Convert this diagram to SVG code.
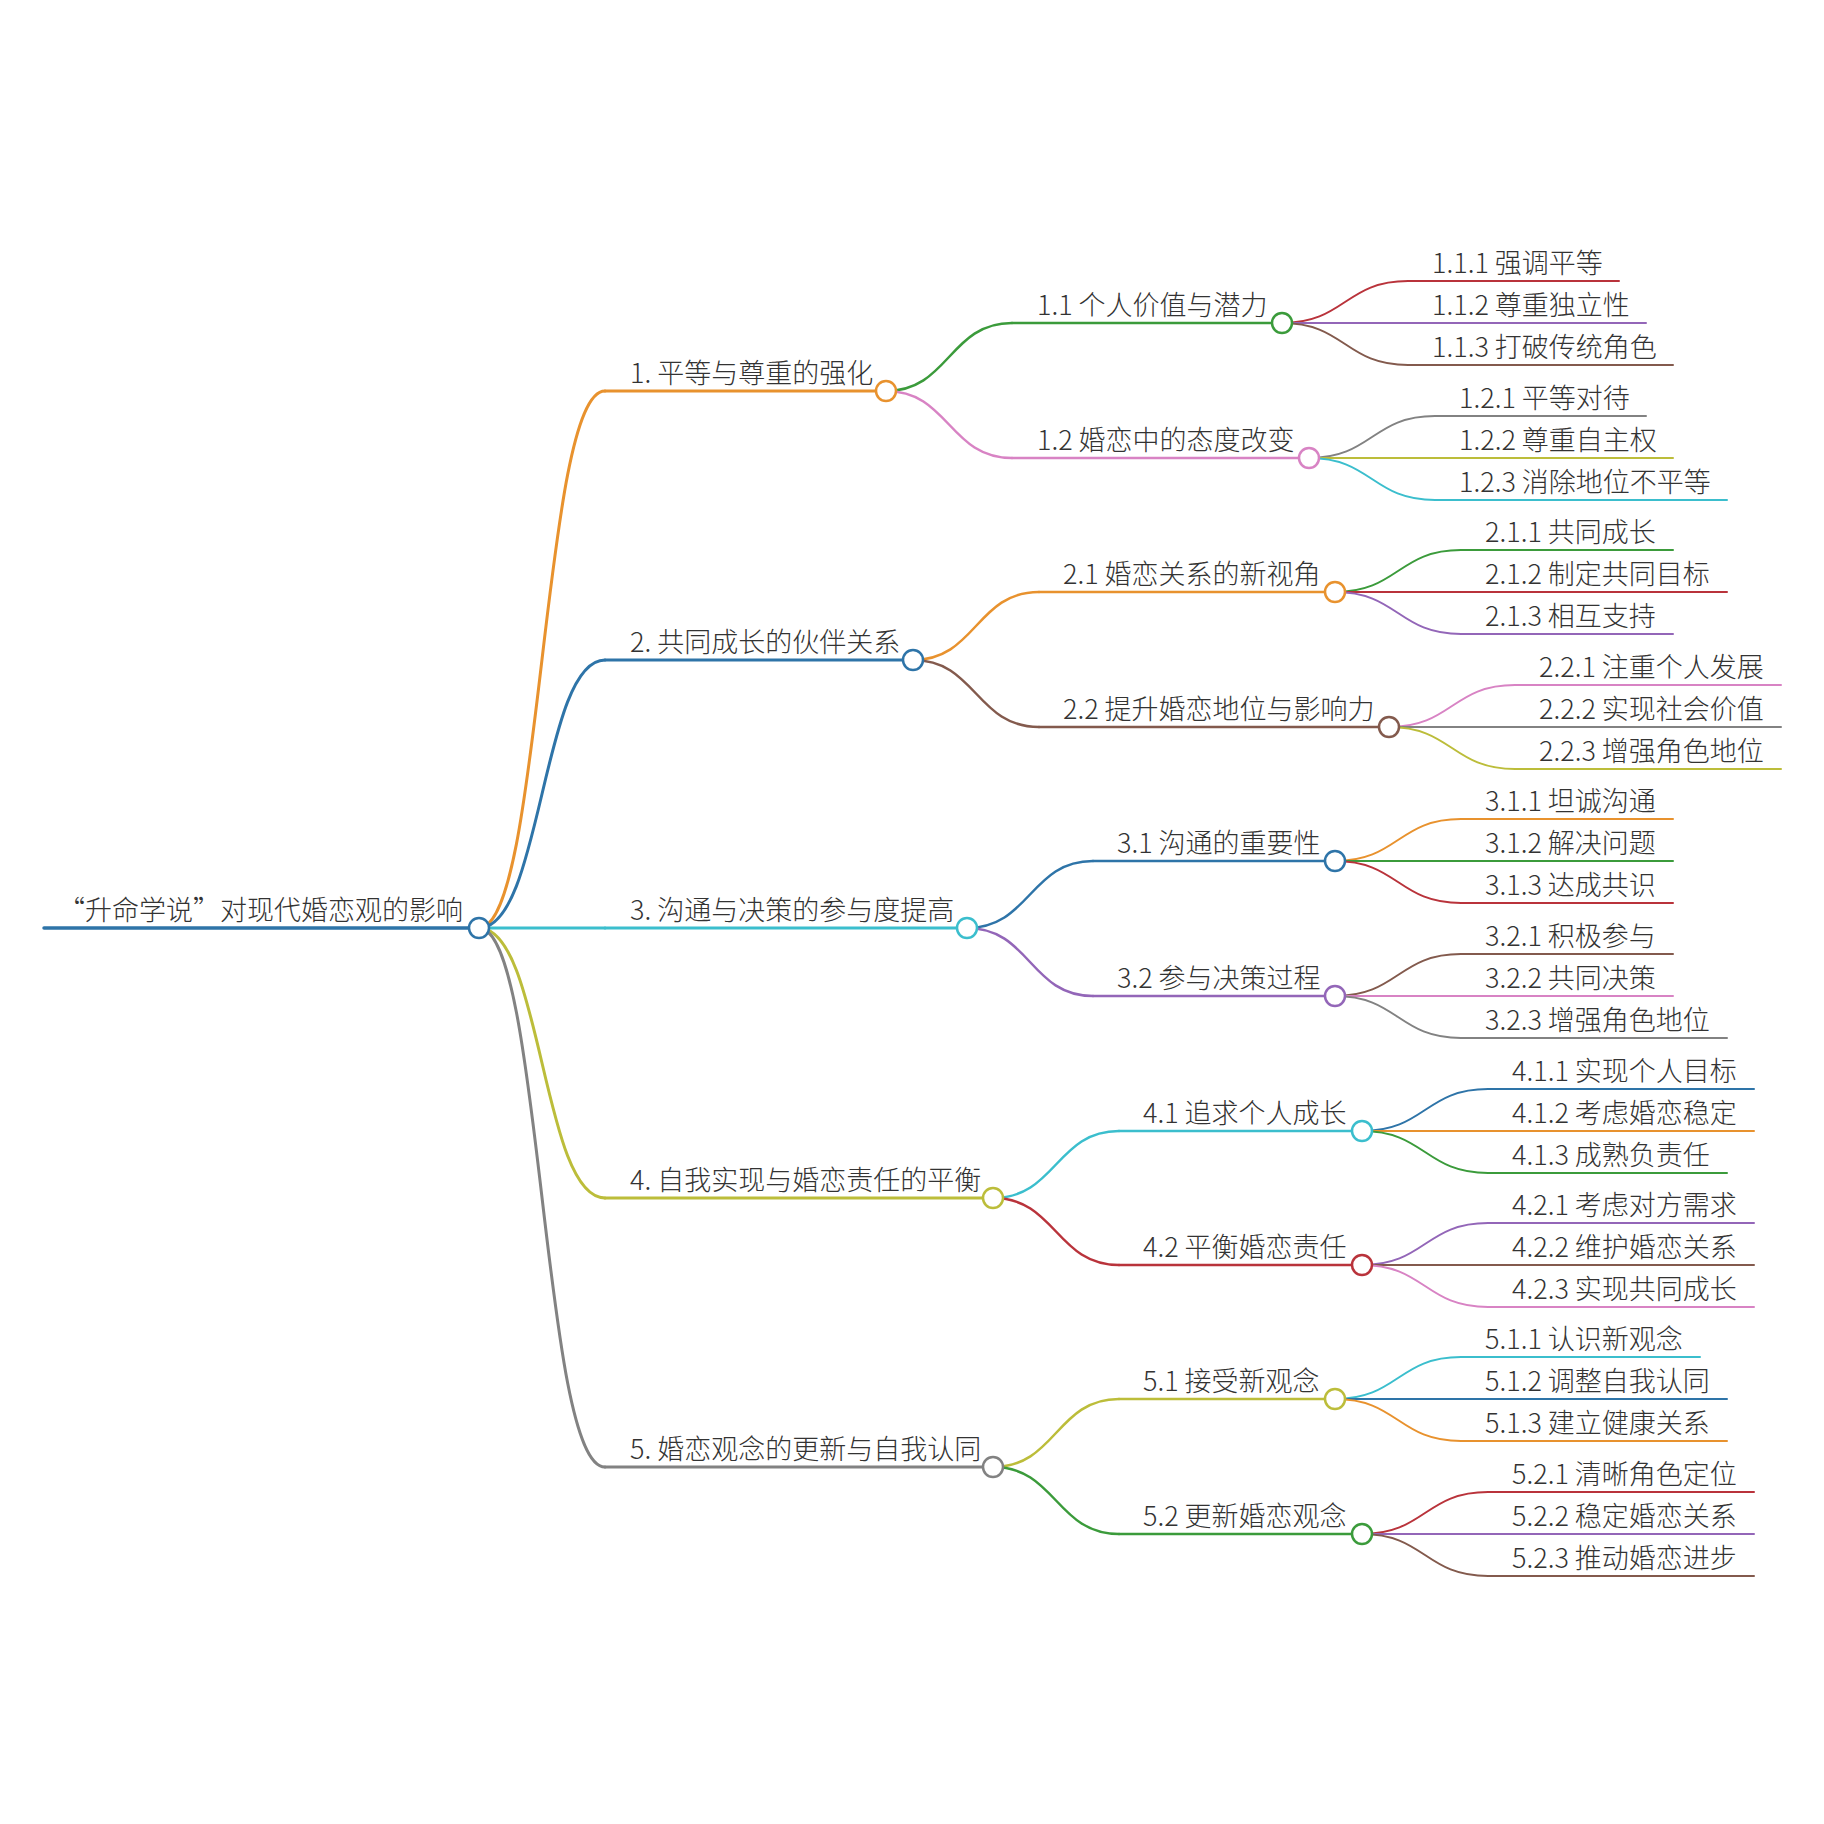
<svg xmlns="http://www.w3.org/2000/svg" width="1824" height="1824" viewBox="0 0 1824 1824">
<style>
text{font-family:"Noto Sans CJK SC","Noto Sans",sans-serif;font-size:27px;font-weight:300;fill:#333}
path,line{fill:none;stroke-linecap:round}
circle{fill:#fff;stroke-width:2.5}
.c0{stroke:#2e74a8}.c1{stroke:#e8922e}.c2{stroke:#3b9b3b}.c3{stroke:#b9333b}.c4{stroke:#9366b8}
.c5{stroke:#835a4d}.c6{stroke:#d883c4}.c7{stroke:#828282}.c8{stroke:#bcbd3a}.c9{stroke:#3bbecd}
.w0{stroke-width:3.5}.w1{stroke-width:3}.w2{stroke-width:2.5}.w3{stroke-width:2}
</style>
<rect width="1824" height="1824" fill="#fff"/>
<g id="connectors">
<path class="c1 w1" d="M479,928 C542,928 542,391 605,391"/>
<path class="c0 w1" d="M479,928 C542,928 542,660 605,660"/>
<path class="c9 w1" d="M479,928 L605,928"/>
<path class="c8 w1" d="M479,928 C542,928 542,1198 605,1198"/>
<path class="c7 w1" d="M479,928 C542,928 542,1467 605,1467"/>
<path class="c2 w2" d="M886,391 C949,391 949,323 1012,323"/>
<path class="c6 w2" d="M886,391 C949,391 949,458 1012,458"/>
<path class="c1 w2" d="M913,660 C976,660 976,592 1039,592"/>
<path class="c5 w2" d="M913,660 C976,660 976,727 1039,727"/>
<path class="c0 w2" d="M967,928 C1030,928 1030,861 1093,861"/>
<path class="c4 w2" d="M967,928 C1030,928 1030,996 1093,996"/>
<path class="c9 w2" d="M993,1198 C1056,1198 1056,1131 1119,1131"/>
<path class="c3 w2" d="M993,1198 C1056,1198 1056,1265 1119,1265"/>
<path class="c8 w2" d="M993,1467 C1056,1467 1056,1399 1119,1399"/>
<path class="c2 w2" d="M993,1467 C1056,1467 1056,1534 1119,1534"/>
<path class="c3 w3" d="M1282,323 C1345,323 1345,281 1408,281"/>
<path class="c4 w3" d="M1282,323 L1408,323"/>
<path class="c5 w3" d="M1282,323 C1345,323 1345,365 1408,365"/>
<path class="c7 w3" d="M1309,458 C1372,458 1372,416 1435,416"/>
<path class="c8 w3" d="M1309,458 L1435,458"/>
<path class="c9 w3" d="M1309,458 C1372,458 1372,500 1435,500"/>
<path class="c2 w3" d="M1335,592 C1398,592 1398,550 1461,550"/>
<path class="c3 w3" d="M1335,592 L1461,592"/>
<path class="c4 w3" d="M1335,592 C1398,592 1398,634 1461,634"/>
<path class="c6 w3" d="M1389,727 C1452,727 1452,685 1515,685"/>
<path class="c7 w3" d="M1389,727 L1515,727"/>
<path class="c8 w3" d="M1389,727 C1452,727 1452,769 1515,769"/>
<path class="c1 w3" d="M1335,861 C1398,861 1398,819 1461,819"/>
<path class="c2 w3" d="M1335,861 L1461,861"/>
<path class="c3 w3" d="M1335,861 C1398,861 1398,903 1461,903"/>
<path class="c5 w3" d="M1335,996 C1398,996 1398,954 1461,954"/>
<path class="c6 w3" d="M1335,996 L1461,996"/>
<path class="c7 w3" d="M1335,996 C1398,996 1398,1038 1461,1038"/>
<path class="c0 w3" d="M1362,1131 C1425,1131 1425,1089 1488,1089"/>
<path class="c1 w3" d="M1362,1131 L1488,1131"/>
<path class="c2 w3" d="M1362,1131 C1425,1131 1425,1173 1488,1173"/>
<path class="c4 w3" d="M1362,1265 C1425,1265 1425,1223 1488,1223"/>
<path class="c5 w3" d="M1362,1265 L1488,1265"/>
<path class="c6 w3" d="M1362,1265 C1425,1265 1425,1307 1488,1307"/>
<path class="c9 w3" d="M1335,1399 C1398,1399 1398,1357 1461,1357"/>
<path class="c0 w3" d="M1335,1399 L1461,1399"/>
<path class="c1 w3" d="M1335,1399 C1398,1399 1398,1441 1461,1441"/>
<path class="c3 w3" d="M1362,1534 C1425,1534 1425,1492 1488,1492"/>
<path class="c4 w3" d="M1362,1534 L1488,1534"/>
<path class="c5 w3" d="M1362,1534 C1425,1534 1425,1576 1488,1576"/>
</g>
<g id="root"><line class="c0 w0" x1="44" y1="928" x2="479" y2="928"/><circle class="c0" cx="479" cy="928" r="10"/><text x="463" y="920" text-anchor="end">“升命学说”对现代婚恋观的影响</text></g>
<g id="n1"><line class="c1 w1" x1="605" y1="391" x2="886" y2="391"/><circle class="c1" cx="886" cy="391" r="10"/><text x="630" y="383">1. 平等与尊重的强化</text></g>
<g id="n2"><line class="c0 w1" x1="605" y1="660" x2="913" y2="660"/><circle class="c0" cx="913" cy="660" r="10"/><text x="630" y="652">2. 共同成长的伙伴关系</text></g>
<g id="n3"><line class="c9 w1" x1="605" y1="928" x2="967" y2="928"/><circle class="c9" cx="967" cy="928" r="10"/><text x="630" y="920">3. 沟通与决策的参与度提高</text></g>
<g id="n4"><line class="c8 w1" x1="605" y1="1198" x2="993" y2="1198"/><circle class="c8" cx="993" cy="1198" r="10"/><text x="630" y="1190">4. 自我实现与婚恋责任的平衡</text></g>
<g id="n5"><line class="c7 w1" x1="605" y1="1467" x2="993" y2="1467"/><circle class="c7" cx="993" cy="1467" r="10"/><text x="630" y="1459">5. 婚恋观念的更新与自我认同</text></g>
<g id="n1-1"><line class="c2 w2" x1="1012" y1="323" x2="1282" y2="323"/><circle class="c2" cx="1282" cy="323" r="10"/><text x="1037" y="315">1.1 个人价值与潜力</text></g>
<g id="n1-2"><line class="c6 w2" x1="1012" y1="458" x2="1309" y2="458"/><circle class="c6" cx="1309" cy="458" r="10"/><text x="1037" y="450">1.2 婚恋中的态度改变</text></g>
<g id="n2-1"><line class="c1 w2" x1="1039" y1="592" x2="1335" y2="592"/><circle class="c1" cx="1335" cy="592" r="10"/><text x="1063" y="584">2.1 婚恋关系的新视角</text></g>
<g id="n2-2"><line class="c5 w2" x1="1039" y1="727" x2="1389" y2="727"/><circle class="c5" cx="1389" cy="727" r="10"/><text x="1063" y="719">2.2 提升婚恋地位与影响力</text></g>
<g id="n3-1"><line class="c0 w2" x1="1093" y1="861" x2="1335" y2="861"/><circle class="c0" cx="1335" cy="861" r="10"/><text x="1117" y="853">3.1 沟通的重要性</text></g>
<g id="n3-2"><line class="c4 w2" x1="1093" y1="996" x2="1335" y2="996"/><circle class="c4" cx="1335" cy="996" r="10"/><text x="1117" y="988">3.2 参与决策过程</text></g>
<g id="n4-1"><line class="c9 w2" x1="1119" y1="1131" x2="1362" y2="1131"/><circle class="c9" cx="1362" cy="1131" r="10"/><text x="1143" y="1123">4.1 追求个人成长</text></g>
<g id="n4-2"><line class="c3 w2" x1="1119" y1="1265" x2="1362" y2="1265"/><circle class="c3" cx="1362" cy="1265" r="10"/><text x="1143" y="1257">4.2 平衡婚恋责任</text></g>
<g id="n5-1"><line class="c8 w2" x1="1119" y1="1399" x2="1335" y2="1399"/><circle class="c8" cx="1335" cy="1399" r="10"/><text x="1143" y="1391">5.1 接受新观念</text></g>
<g id="n5-2"><line class="c2 w2" x1="1119" y1="1534" x2="1362" y2="1534"/><circle class="c2" cx="1362" cy="1534" r="10"/><text x="1143" y="1526">5.2 更新婚恋观念</text></g>
<g id="n1-1-1"><line class="c3 w3" x1="1408" y1="281" x2="1619" y2="281"/><text x="1432" y="273">1.1.1 强调平等</text></g>
<g id="n1-1-2"><line class="c4 w3" x1="1408" y1="323" x2="1646" y2="323"/><text x="1432" y="315">1.1.2 尊重独立性</text></g>
<g id="n1-1-3"><line class="c5 w3" x1="1408" y1="365" x2="1673" y2="365"/><text x="1432" y="357">1.1.3 打破传统角色</text></g>
<g id="n1-2-1"><line class="c7 w3" x1="1435" y1="416" x2="1646" y2="416"/><text x="1459" y="408">1.2.1 平等对待</text></g>
<g id="n1-2-2"><line class="c8 w3" x1="1435" y1="458" x2="1673" y2="458"/><text x="1459" y="450">1.2.2 尊重自主权</text></g>
<g id="n1-2-3"><line class="c9 w3" x1="1435" y1="500" x2="1727" y2="500"/><text x="1459" y="492">1.2.3 消除地位不平等</text></g>
<g id="n2-1-1"><line class="c2 w3" x1="1461" y1="550" x2="1673" y2="550"/><text x="1485" y="542">2.1.1 共同成长</text></g>
<g id="n2-1-2"><line class="c3 w3" x1="1461" y1="592" x2="1727" y2="592"/><text x="1485" y="584">2.1.2 制定共同目标</text></g>
<g id="n2-1-3"><line class="c4 w3" x1="1461" y1="634" x2="1673" y2="634"/><text x="1485" y="626">2.1.3 相互支持</text></g>
<g id="n2-2-1"><line class="c6 w3" x1="1515" y1="685" x2="1781" y2="685"/><text x="1539" y="677">2.2.1 注重个人发展</text></g>
<g id="n2-2-2"><line class="c7 w3" x1="1515" y1="727" x2="1781" y2="727"/><text x="1539" y="719">2.2.2 实现社会价值</text></g>
<g id="n2-2-3"><line class="c8 w3" x1="1515" y1="769" x2="1781" y2="769"/><text x="1539" y="761">2.2.3 增强角色地位</text></g>
<g id="n3-1-1"><line class="c1 w3" x1="1461" y1="819" x2="1673" y2="819"/><text x="1485" y="811">3.1.1 坦诚沟通</text></g>
<g id="n3-1-2"><line class="c2 w3" x1="1461" y1="861" x2="1673" y2="861"/><text x="1485" y="853">3.1.2 解决问题</text></g>
<g id="n3-1-3"><line class="c3 w3" x1="1461" y1="903" x2="1673" y2="903"/><text x="1485" y="895">3.1.3 达成共识</text></g>
<g id="n3-2-1"><line class="c5 w3" x1="1461" y1="954" x2="1673" y2="954"/><text x="1485" y="946">3.2.1 积极参与</text></g>
<g id="n3-2-2"><line class="c6 w3" x1="1461" y1="996" x2="1673" y2="996"/><text x="1485" y="988">3.2.2 共同决策</text></g>
<g id="n3-2-3"><line class="c7 w3" x1="1461" y1="1038" x2="1727" y2="1038"/><text x="1485" y="1030">3.2.3 增强角色地位</text></g>
<g id="n4-1-1"><line class="c0 w3" x1="1488" y1="1089" x2="1754" y2="1089"/><text x="1512" y="1081">4.1.1 实现个人目标</text></g>
<g id="n4-1-2"><line class="c1 w3" x1="1488" y1="1131" x2="1754" y2="1131"/><text x="1512" y="1123">4.1.2 考虑婚恋稳定</text></g>
<g id="n4-1-3"><line class="c2 w3" x1="1488" y1="1173" x2="1727" y2="1173"/><text x="1512" y="1165">4.1.3 成熟负责任</text></g>
<g id="n4-2-1"><line class="c4 w3" x1="1488" y1="1223" x2="1754" y2="1223"/><text x="1512" y="1215">4.2.1 考虑对方需求</text></g>
<g id="n4-2-2"><line class="c5 w3" x1="1488" y1="1265" x2="1754" y2="1265"/><text x="1512" y="1257">4.2.2 维护婚恋关系</text></g>
<g id="n4-2-3"><line class="c6 w3" x1="1488" y1="1307" x2="1754" y2="1307"/><text x="1512" y="1299">4.2.3 实现共同成长</text></g>
<g id="n5-1-1"><line class="c9 w3" x1="1461" y1="1357" x2="1700" y2="1357"/><text x="1485" y="1349">5.1.1 认识新观念</text></g>
<g id="n5-1-2"><line class="c0 w3" x1="1461" y1="1399" x2="1727" y2="1399"/><text x="1485" y="1391">5.1.2 调整自我认同</text></g>
<g id="n5-1-3"><line class="c1 w3" x1="1461" y1="1441" x2="1727" y2="1441"/><text x="1485" y="1433">5.1.3 建立健康关系</text></g>
<g id="n5-2-1"><line class="c3 w3" x1="1488" y1="1492" x2="1754" y2="1492"/><text x="1512" y="1484">5.2.1 清晰角色定位</text></g>
<g id="n5-2-2"><line class="c4 w3" x1="1488" y1="1534" x2="1754" y2="1534"/><text x="1512" y="1526">5.2.2 稳定婚恋关系</text></g>
<g id="n5-2-3"><line class="c5 w3" x1="1488" y1="1576" x2="1754" y2="1576"/><text x="1512" y="1568">5.2.3 推动婚恋进步</text></g>
</svg>
